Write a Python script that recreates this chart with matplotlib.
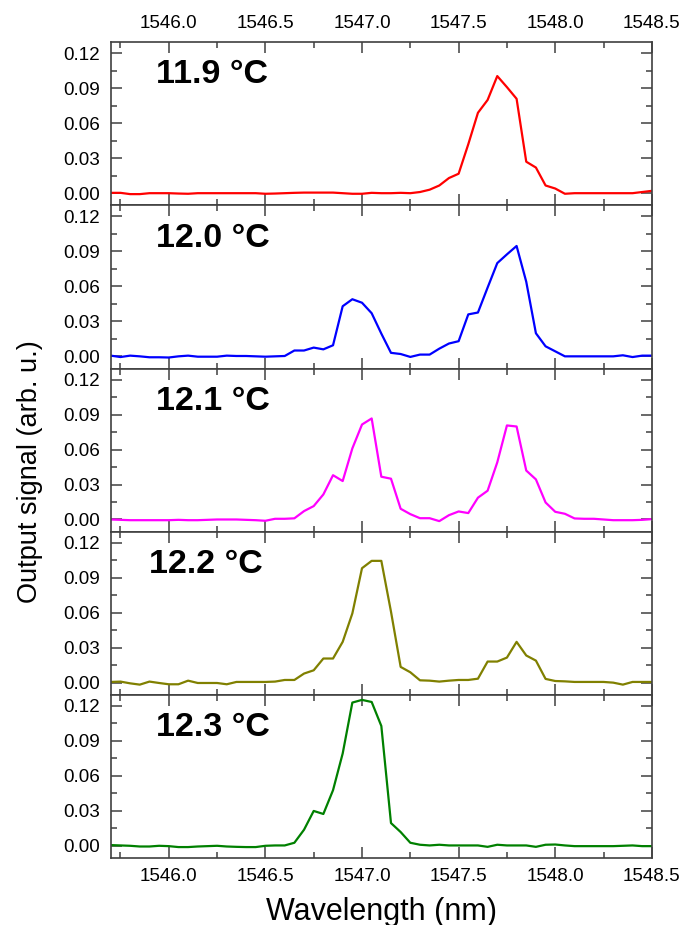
import numpy as np
import matplotlib
matplotlib.use("Agg")
import matplotlib.pyplot as plt
from matplotlib.ticker import MultipleLocator

plt.rcParams['font.family'] = ['Liberation Sans', 'DejaVu Sans']

# wavelength sampling grid (nm), 0.05 nm steps
wavelength = np.linspace(1545.70, 1548.50, 57)

temps = ["11.9 °C", "12.0 °C", "12.1 °C", "12.2 °C", "12.3 °C"]
colors = ["#ff0000", "#0000ff", "#ff00ff", "#808000", "#008000"]

sig_119 = [0.0003, 0.0003, -0.0008, -0.0008, 0.0, 0.0, 0.0, -0.0003, -0.0005, 0.0,
           0.0, 0.0, 0.0, 0.0, 0.0, 0.0, -0.0005, -0.0003, 0.0, 0.0003,
           0.0005, 0.0005, 0.0005, 0.0005, 0.0, -0.0005, -0.0005, 0.0003, 0.0, 0.0,
           0.0003, 0.0, 0.001, 0.003, 0.0066, 0.013, 0.0167, 0.042, 0.069, 0.080,
           0.1005, 0.091, 0.081, 0.027, 0.022, 0.0066, 0.004, -0.0005, 0.0, 0.0,
           0.0, 0.0, 0.0, 0.0, 0.0, 0.001, 0.002]

sig_120 = [0.0006, -0.0006, 0.0006, 0.0, -0.0008, -0.0008, -0.001, 0.0, 0.0006, -0.0003,
           -0.0003, -0.0003, 0.0006, 0.0003, 0.0003, 0.0, -0.0003, 0.0, 0.0003, 0.005,
           0.005, 0.0075, 0.006, 0.0095, 0.043, 0.049, 0.046, 0.037, 0.0195, 0.003,
           0.002, -0.0005, 0.0015, 0.0015, 0.0066, 0.011, 0.013, 0.036, 0.0376, 0.059,
           0.080, 0.0875, 0.0947, 0.064, 0.0198, 0.0086, 0.0043, 0.0, 0.0, 0.0,
           0.0, 0.0, 0.0, 0.0009, -0.0006, 0.0006, 0.0006]

sig_121 = [0.0, -0.0003, -0.0006, -0.0006, -0.0006, -0.0006, -0.0006, -0.0003, -0.0006, -0.0006,
           -0.0003, 0.0, 0.0, 0.0, -0.0003, -0.0006, -0.0011, 0.0006, 0.0006, 0.001,
           0.0072, 0.0115, 0.0215, 0.038, 0.033, 0.061, 0.0815, 0.0867, 0.0367, 0.035,
           0.0092, 0.0046, 0.0011, 0.0011, -0.0014, 0.0037, 0.0069, 0.0055, 0.0187, 0.0247,
           0.049, 0.0807, 0.0798, 0.042, 0.0344, 0.0146, 0.0066, 0.0049, 0.0009, 0.0006,
           0.0006, 0.0, -0.0006, -0.0006, -0.0006, -0.0003, 0.0003]

sig_122 = [0.0006, 0.0009, -0.0006, -0.0017, 0.0009, -0.0003, -0.0014, -0.0014, 0.0017, -0.0003,
           -0.0003, -0.0003, -0.0014, 0.0006, 0.0006, 0.0006, 0.0006, 0.0009, 0.0023, 0.0023,
           0.0078, 0.0106, 0.0207, 0.0207, 0.035, 0.0594, 0.0982, 0.1045, 0.1045, 0.0609,
           0.0135, 0.0089, 0.002, 0.0017, 0.0009, 0.0017, 0.0023, 0.0023, 0.0034, 0.0181,
           0.0181, 0.0215, 0.035, 0.0233, 0.0189, 0.0032, 0.0014, 0.0011, 0.0006, 0.0006,
           0.0006, 0.0006, 0.0, -0.0017, 0.0006, 0.0006, 0.0006]

sig_123 = [0.0006, 0.0003, 0.0, -0.0006, -0.0006, 0.0, -0.0003, -0.0011, -0.0011, -0.0006,
           -0.0003, 0.0, -0.0006, -0.0009, -0.0011, -0.0011, 0.0, 0.0003, 0.0003, 0.0026,
           0.0138, 0.0299, 0.0273, 0.0477, 0.0792, 0.1229, 0.1252, 0.1234, 0.1028, 0.0195,
           0.0118, 0.0026, 0.0009, 0.0003, 0.0009, 0.0003, 0.0003, 0.0003, 0.0003, -0.0009,
           0.0009, 0.0003, 0.0003, 0.0003, -0.0009, 0.0009, 0.0011, 0.0003, -0.0003, -0.0003,
           -0.0003, -0.0003, -0.0003, 0.0, 0.0003, -0.0003, -0.0003]

signals = [sig_119, sig_120, sig_121, sig_122, sig_123]
label_x = [0.083, 0.083, 0.083, 0.07, 0.083]

fig, axes = plt.subplots(5, 1, figsize=(6.84, 9.25), dpi=100, sharex=True)
fig.subplots_adjust(left=0.162, right=0.953, top=0.9543, bottom=0.0724, hspace=0)

frame = "#404040"
for i, ax in enumerate(axes):
    ax.plot(wavelength, signals[i], color=colors[i], lw=1.6)
    ax.set_xlim(1545.70, 1548.50)
    ax.set_ylim(-0.0105, 0.1295)
    ax.xaxis.set_major_locator(MultipleLocator(0.5))
    ax.xaxis.set_minor_locator(MultipleLocator(0.25))
    ax.yaxis.set_major_locator(MultipleLocator(0.03))
    ax.yaxis.set_minor_locator(MultipleLocator(0.015))
    ax.yaxis.set_major_formatter(matplotlib.ticker.FormatStrFormatter('%.2f'))
    ax.xaxis.set_major_formatter(matplotlib.ticker.FormatStrFormatter('%.1f'))
    ax.tick_params(which='both', direction='in', top=True, right=True,
                   color=frame, width=1.1, labelsize=13.6, pad=7.5,
                   labelbottom=(i == 4), labeltop=(i == 0))
    ax.tick_params(which='major', length=8)
    ax.tick_params(which='minor', length=4.5)
    for sp in ax.spines.values():
        sp.set_color(frame)
        sp.set_linewidth(1.2)
    ax.text(label_x[i], 0.80, temps[i], transform=ax.transAxes,
            fontsize=24.5, fontweight='bold', va='center', ha='left')

axes[4].set_xlabel('Wavelength (nm)', fontsize=22, labelpad=8)
fig.text(0.044, 0.49, 'Output signal (arb. u.)', rotation=90,
         fontsize=19.5, ha='center', va='center')

plt.savefig('out.png', dpi=100)
plt.close()
